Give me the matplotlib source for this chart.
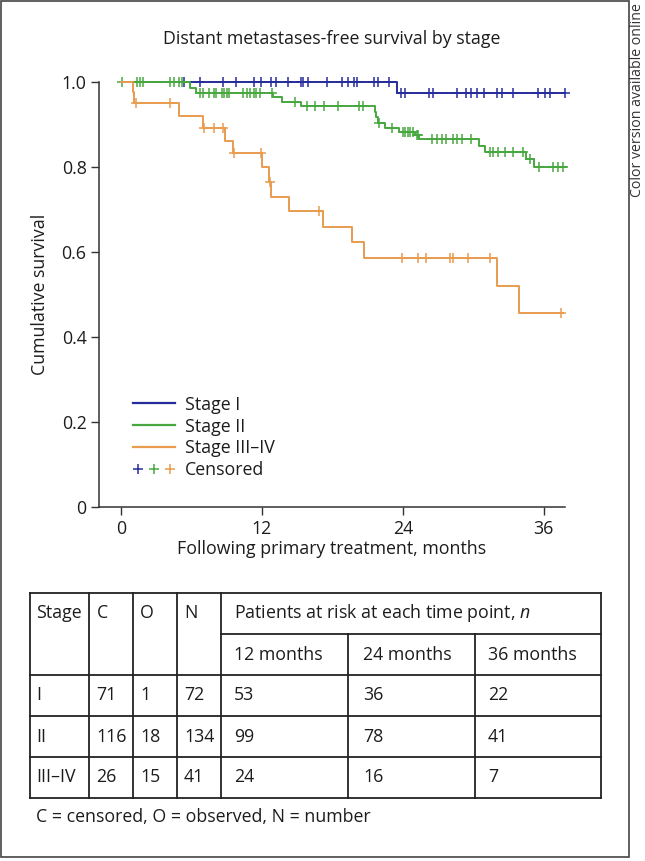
import numpy as np
import matplotlib
matplotlib.use('Agg')
import matplotlib.pyplot as plt
from matplotlib.lines import Line2D
from matplotlib.patches import Rectangle
from matplotlib.legend_handler import HandlerTuple

plt.rcParams['font.family'] = ['Open Sans', 'DejaVu Sans']
plt.rcParams['mathtext.fontset'] = 'custom'
plt.rcParams['mathtext.rm'] = 'Open Sans'
plt.rcParams['mathtext.it'] = 'Open Sans:italic'

# Kaplan-Meier steps: time (months) and survival after each step
stage1_t = [0, 23.5]
stage1_s = [1.0, 0.973]
stage1_end = 37.8
stage1_cens = [5.4, 6.7, 8.7, 9.8, 11.3, 11.9, 12.8, 13.2, 14.2, 15.3, 15.5, 15.9,
               17.5, 18.8, 19.3, 19.8, 20.1, 21.5, 21.9, 22.8, 23.8, 24.2, 26.2,
               26.6, 28.6, 29.4, 29.8, 30.3, 30.9, 32.0, 32.4, 33.4, 35.5, 36.1,
               36.5, 37.8]

stage2_t = [0, 5.9, 6.4, 12.9, 13.7, 15.3, 21.6, 21.75, 21.9, 22.5, 23.7, 25.0,
            25.4, 30.5, 31.0, 34.5, 35.2]
stage2_s = [1.0, 0.985, 0.973, 0.965, 0.954, 0.944, 0.930, 0.918, 0.903, 0.891,
            0.883, 0.875, 0.866, 0.849, 0.836, 0.820, 0.799]
stage2_end = 37.9
stage2_cens = [0.1, 1.4, 1.6, 1.9, 4.2, 4.5, 4.9, 5.2, 6.7, 7.0, 7.5, 7.9, 8.1,
               8.6, 8.8, 9.0, 9.2, 10.4, 10.7, 11.0, 11.3, 11.5, 11.8, 12.85,
               14.8, 15.8, 16.5, 17.3, 18.5, 20.3, 20.6, 22.0, 23.1, 24.0, 24.2,
               24.4, 24.6, 24.9, 25.2, 25.3, 26.5, 26.9, 27.3, 27.7, 28.3, 28.6,
               29.0, 29.8, 31.4, 31.7, 32.1, 32.7, 33.4, 34.2, 34.8, 35.6, 36.8,
               37.2, 37.6]

stage3_t = [0, 1.0, 1.1, 4.9, 7.0, 8.85, 9.5, 12.0, 12.6, 12.8, 14.3, 17.2,
            19.7, 20.7, 32.0, 33.9]
stage3_s = [1.0, 0.976, 0.951, 0.920, 0.891, 0.862, 0.832, 0.799, 0.765, 0.730,
            0.697, 0.660, 0.624, 0.587, 0.521, 0.456]
stage3_end = 37.6
stage3_cens = [1.3, 4.2, 7.1, 7.9, 8.7, 9.6, 11.95, 12.7, 16.9, 23.9, 25.3, 26.0,
               28.0, 28.3, 29.5, 31.4, 37.5]

labels = ['Stage I', 'Stage II', 'Stage III\u2013IV']
colors = ['#272c9c', '#48a83f', '#e99b4e']

# table
tab_stage = ['I', 'II', 'III\u2013IV']
tab_c = [71, 116, 26]
tab_o = [1, 18, 15]
tab_n = [72, 134, 41]
risk_12 = [53, 99, 24]
risk_24 = [36, 78, 16]
risk_36 = [22, 41, 7]

FS = 12.8
TXT = '#1c1c1c'


def surv_at(t, steps_t, steps_s):
    idx = np.searchsorted(steps_t, t, side='right') - 1
    return np.array(steps_s)[idx]


fig = plt.figure(figsize=(6.45, 8.61), dpi=100)

# page overlay in pixel coordinates (frame + table)
pg = fig.add_axes([0, 0, 1, 1])
pg.set_xlim(0, 645)
pg.set_ylim(861, 0)
pg.axis('off')
pg.add_patch(Rectangle((1, 1), 628, 856, fill=False, lw=1.2, ec='#444444'))
pg.text(637.5, 3, 'Color version available online', rotation=90, ha='center',
        va='top', fontsize=10.2, color='#333333')

ax = fig.add_axes([99 / 645, 1 - 507 / 861, 466 / 645, 425 / 861])
ax.patch.set_alpha(0)

curves = [(stage1_t, stage1_s, stage1_end, stage1_cens),
          (stage2_t, stage2_s, stage2_end, stage2_cens),
          (stage3_t, stage3_s, stage3_end, stage3_cens)]
zorders = [3, 4, 5]
for (st, ss, end, cens), col, z in zip(curves, colors, zorders):
    tt = list(st) + [end]
    sv = list(ss) + [ss[-1]]
    ax.step(tt, sv, where='post', color=col, lw=1.4, clip_on=False, zorder=z)
    ax.plot(cens, surv_at(cens, st, ss), ls='none', marker='+', ms=6.5,
            mew=1.1, color=col, clip_on=False, zorder=z)

ax.set_xlim(-1.87, 37.8)
ax.set_ylim(0, 1.0)
ax.set_xticks([0, 12, 24, 36])
ax.set_yticks([0, 0.2, 0.4, 0.6, 0.8, 1.0])
ax.set_yticklabels(['0', '0.2', '0.4', '0.6', '0.8', '1.0'])
for s in ['top', 'right']:
    ax.spines[s].set_visible(False)
for s in ['left', 'bottom']:
    ax.spines[s].set_linewidth(1.1)
    ax.spines[s].set_color('#333333')
ax.tick_params(direction='out', length=6, width=1.0, color='#333333',
               labelsize=FS, labelcolor=TXT, pad=3)
ax.set_xlabel('Following primary treatment, months', fontsize=FS,
              color=TXT, labelpad=2)
ax.set_ylabel('Cumulative survival', fontsize=FS, color=TXT, labelpad=9)
fig.text((99 + 565) / 2 / 645, 1 - 39 / 861,
         'Distant metastases-free survival by stage',
         ha='center', va='center', fontsize=FS, color=TXT)

handles = [Line2D([], [], color=c, lw=1.6) for c in colors]
cens_h = tuple(Line2D([], [], ls='none', marker='+', ms=7, mew=1.1, color=c)
               for c in colors)
leg = ax.legend(handles + [cens_h], labels + ['Censored'],
                handler_map={tuple: HandlerTuple(ndivide=None, pad=0.35)},
                loc='upper left', bbox_to_anchor=(0.072, 0.262), frameon=False,
                fontsize=FS, handlelength=2.4, handletextpad=0.55,
                labelspacing=0.22, borderpad=0, borderaxespad=0)
for t in leg.get_texts():
    t.set_color(TXT)

# table layout (pixels)
col_x = [30, 88.5, 132.5, 177, 221, 348, 474.5, 601]
row_y = [593, 634, 675, 716, 757, 798]
lw_t = 1.3
pg.plot([col_x[0], col_x[-1]], [row_y[0]] * 2, color='#222222', lw=lw_t)
pg.plot([col_x[4], col_x[-1]], [row_y[1]] * 2, color='#222222', lw=lw_t)
for y in row_y[2:]:
    pg.plot([col_x[0], col_x[-1]], [y, y], color='#222222', lw=lw_t)
for i, x in enumerate(col_x):
    if i in (5, 6):
        pg.plot([x, x], [row_y[1], row_y[-1]], color='#222222', lw=lw_t)
    else:
        pg.plot([x, x], [row_y[0], row_y[-1]], color='#222222', lw=lw_t)

pads = [6, 8, 7.5, 7, 13, 15, 13.5]
hdr_y = (row_y[0] + row_y[1]) / 2
for x, p, txt in zip(col_x[:5], pads, ['Stage', 'C', 'O', 'N',
                                       'Patients at risk at each time point, $n$']):
    pg.text(x + p, hdr_y, txt, ha='left', va='center', fontsize=FS, color=TXT)
sub_y = (row_y[1] + row_y[2]) / 2
for x, p, txt in zip(col_x[4:7], pads[4:], ['12 months', '24 months', '36 months']):
    pg.text(x + p, sub_y, txt, ha='left', va='center', fontsize=FS, color=TXT)
for r in range(3):
    yc = (row_y[2 + r] + row_y[3 + r]) / 2
    vals = [tab_stage[r], tab_c[r], tab_o[r], tab_n[r], risk_12[r], risk_24[r],
            risk_36[r]]
    for x, p, v in zip(col_x[:7], pads, vals):
        pg.text(x + p, yc, str(v), ha='left', va='center', fontsize=FS, color=TXT)

pg.text(36, 817, 'C = censored, O = observed, N = number', ha='left',
        va='center', fontsize=FS, color=TXT)

fig.savefig('out.png', dpi=100)
